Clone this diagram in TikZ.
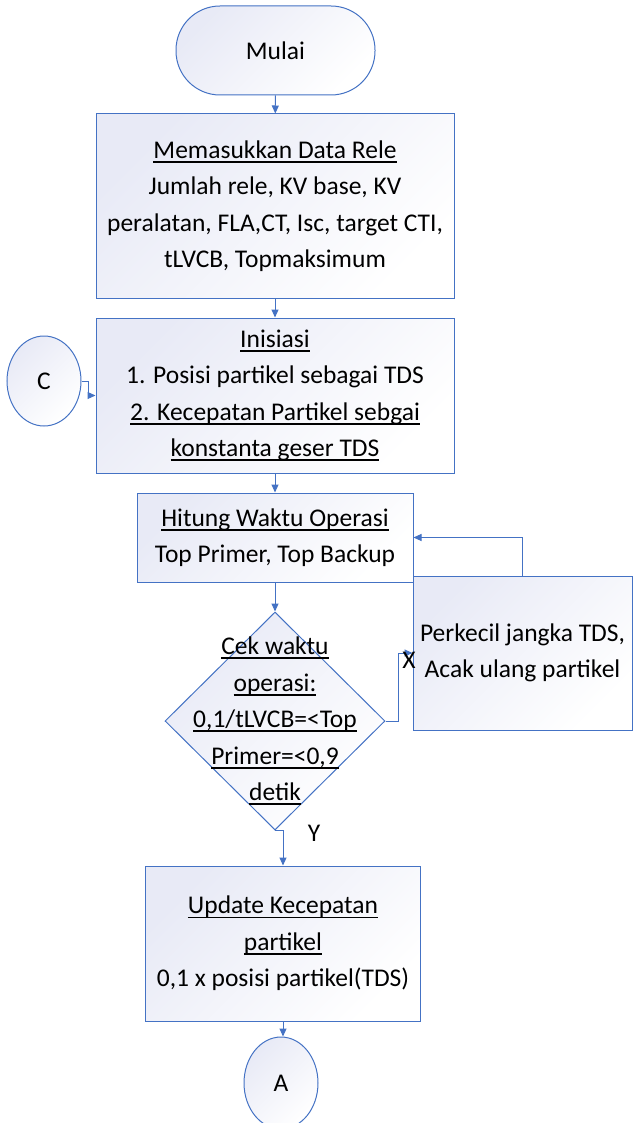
\documentclass[tikz,border=0pt]{standalone}
\usepackage{fontspec}
\setmainfont{Carlito}
\usetikzlibrary{arrows.meta,shapes.geometric}
\definecolor{edge}{HTML}{4472C4}
\definecolor{tint}{HTML}{E8EAF6}
% underline at a fixed depth below the baseline
\newcommand\ulin[1]{\setbox0\hbox{#1}\rlap{\rule[-4.5pt]{\wd0}{1.8pt}}\box0}
\begin{document}
\begin{tikzpicture}[x=1pt,y=-1pt,
  txt/.style={font=\fontsize{25.5}{36.5}\selectfont, align=center, inner sep=2pt},
  shaded/.style={draw=edge, line width=1pt, top color=tint, bottom color=white, shading angle=45},
  procbox/.style={shaded, txt, rectangle},
  conn/.style={draw=edge, line width=1pt},
  arr/.style={conn, -{Triangle[length=8pt,width=7pt]}}]
\useasboundingbox (0,0) rectangle (633,1123);

% terminal
\node[procbox, rounded corners=44pt, minimum width=199pt, minimum height=89pt] (start) at (275.5,50.5) {Mulai};

% input data
\node[procbox, minimum width=358pt, minimum height=184pt] (inp) at (275,206)
  {\ulin{Memasukkan Data Rele}\\Jumlah rele, KV base, KV\\peralatan, FLA,CT, Isc, target CTI,\\tLVCB, Topmaksimum};

% initialisation
\node[procbox, minimum width=358pt, minimum height=155pt] (init) at (275,395.5)
  {\ulin{Inisiasi}\\1. Posisi partikel sebagai TDS\\\ulin{2. Kecepatan Partikel sebgai}\\\ulin{konstanta geser TDS}};

% connector C
\node[shaded, txt, ellipse, inner sep=0pt, minimum width=74pt, minimum height=90pt] (c) at (44,381) {C};

% operating time
\node[procbox, minimum width=276pt, minimum height=89pt] (calc) at (275,537.5)
  {\ulin{Hitung Waktu Operasi}\\Top Primer, Top Backup};

% decision
\node[shaded, diamond, inner sep=0pt, minimum width=220pt, minimum height=218pt] (d) at (275,721) {};
\node[txt] at (d.center) {\ulin{Cek waktu}\\\ulin{operasi:}\\\ulin{0,1/tLVCB=<Top}\\\ulin{Primer=<0,9}\\\ulin{detik}};

% adjustment
\node[procbox, minimum width=219pt, minimum height=154pt] (adj) at (522.5,653)
  {Perkecil jangka TDS,\\Acak ulang partikel};

% velocity update
\node[procbox, minimum width=275pt, minimum height=155pt] (upd) at (283,943.5)
  {\ulin{Update Kecepatan}\\\ulin{partikel}\\0,1 x posisi partikel(TDS)};

% connector A
\node[shaded, txt, ellipse, inner sep=0pt, minimum width=74pt, minimum height=92pt] (a) at (281,1083) {A};

% flow lines
\draw[arr] (start) -- (inp);
\draw[arr] (inp) -- (init);
\draw[arr] (c.east) -- ++(7,0) |- (init.west);
\draw[arr] (init) -- (calc);
\draw[arr] (calc) -- (d.north);
\draw[arr] (d.east) -- ++(13,0) |- (adj.west);
\draw[arr] (adj.north) |- (calc.east);
\draw[arr] (d.south) -- ++(8,0) -- (upd.north);
\draw[arr] (upd.south) -- (upd.south |- a.north);

% branch labels
\node[txt] (lx) at (409,660) {X};
\node[txt] (ly) at (314,833) {Y};
\end{tikzpicture}
\end{document}
